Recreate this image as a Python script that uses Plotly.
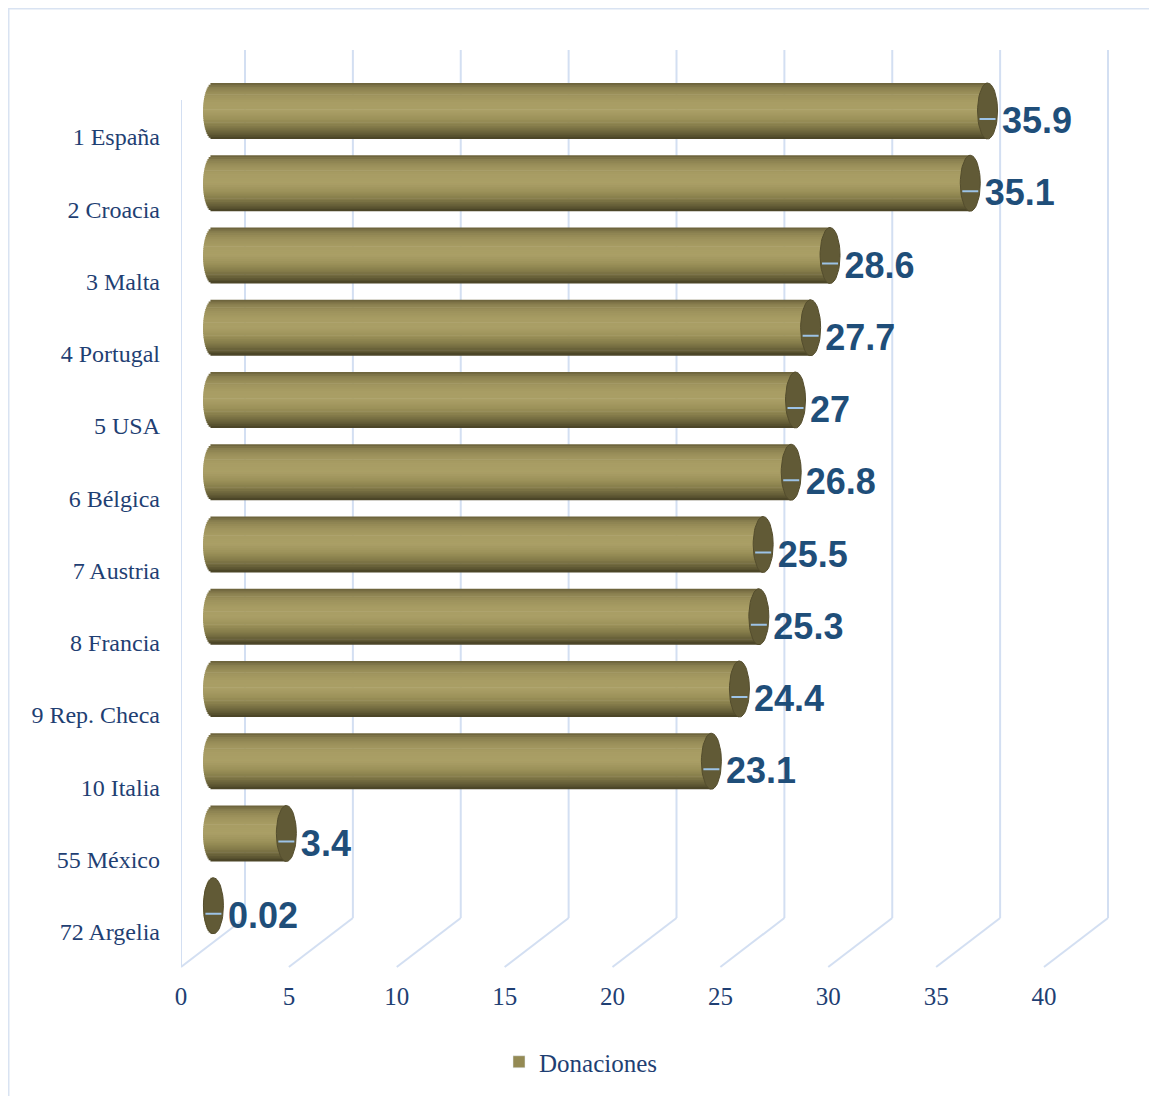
import math
import plotly.graph_objects as go

# ---------------- data ----------------
paises = ["1 España", "2 Croacia", "3 Malta", "4 Portugal", "5 USA", "6 Bélgica",
          "7 Austria", "8 Francia", "9 Rep. Checa", "10 Italia", "55 México", "72 Argelia"]
donaciones = [35.9, 35.1, 28.6, 27.7, 27, 26.8, 25.5, 25.3, 24.4, 23.1, 3.4, 0.02]
x_ticks = [0, 5, 10, 15, 20, 25, 30, 35, 40]
serie = "Donaciones"

# ---------------- layout geometry (pixels, page coords; page has 8px body margin) ----
OFF = 8
W, H = 1157, 1096
L, R, T, B = 181 - OFF, 1110 - OFF, 40 - OFF, 967 - OFF
PW, PH = R - L, B - T
S = 21.575            # px per unit along x
ROW = 72.25           # px per category
C0 = 111 - OFF        # centre of first bar
DEPTH_X, DEPTH_Y = 64, 49   # perspective offset (back wall)
BAR_SHIFT = 32        # bars sit at mid depth
LBL_SHIFT = 26        # category labels are on the front plane

xr = [0, PW / S]
x2r = [-BAR_SHIFT / S, PW / S - BAR_SHIFT / S]
yr = [(B - C0) / ROW, (T - C0) / ROW]
y2r = [yr[0] - LBL_SHIFT / ROW, yr[1] - LBL_SHIFT / ROW]

def px(xp):      # page x -> paper
    return (xp - OFF - L) / PW

def py(yp):      # page y -> paper
    return (B - (yp - OFF)) / PH

n = len(paises)
idx = list(range(n))

# ---------------- cylinder shading ----------------
stops = [(-1.0, "#665e38"), (-0.85, "#887e4e"), (-0.6, "#9d925c"), (-0.3, "#a89d64"),
         (0.0, "#aa9f66"), (0.3, "#9b9159"), (0.55, "#857c4a"), (0.8, "#655e37"),
         (1.0, "#474125")]

def hex2rgb(h):
    h = h.lstrip("#")
    return tuple(int(h[i:i + 2], 16) for i in (0, 2, 4))

def grad(t):
    for (t0, c0), (t1, c1) in zip(stops[:-1], stops[1:]):
        if t0 <= t <= t1:
            f = (t - t0) / (t1 - t0)
            a, b = hex2rgb(c0), hex2rgb(c1)
            return "rgb(%d,%d,%d)" % tuple(round(a[k] + (b[k] - a[k]) * f) for k in range(3))
    return stops[-1][1]

BAR_H = 56 / ROW          # bar thickness in category units
AX = 10 / S               # cap semi-axis (x units)
AY = BAR_H / 2            # cap semi-axis (y units)
NS = 30
hs = BAR_H / NS

fig = go.Figure()

for k in range(NS):
    tc = -1 + (k + 0.5) * 2 / NS
    base = -AX * math.sqrt(max(0.0, 1 - tc * tc))
    fig.add_trace(go.Bar(
        orientation="h",
        y=idx,
        x=[v - base for v in donaciones],
        base=[base] * n,
        width=hs * (1.35 if k < NS - 1 else 1.0),
        offset=-BAR_H / 2 + k * hs,
        marker=dict(color=grad(tc), line=dict(width=0)),
        xaxis="x2", yaxis="y",
        showlegend=False, hoverinfo="skip",
    ))

# end caps (ellipses built from each value)
cx, cy = [], []
for i, v in zip(idx, donaciones):
    for j in range(49):
        th = 2 * math.pi * j / 48
        cx.append(v + AX * math.cos(th))
        cy.append(i + AY * math.sin(th))
    cx.append(None)
    cy.append(None)
fig.add_trace(go.Scatter(
    x=cx, y=cy, mode="lines", fill="toself", fillcolor="#615a36",
    line=dict(color="#544d2d", width=1),
    xaxis="x2", yaxis="y", showlegend=False, hoverinfo="skip",
))

# leader lines
LY = 8 / ROW
lx, ly = [], []
for i, v in zip(idx, donaciones):
    lx += [v - 8 / S, v + 8 / S, None]
    ly += [i + LY, i + LY, None]
fig.add_trace(go.Scatter(
    x=lx, y=ly, mode="lines", line=dict(color="#9dc3e6", width=2),
    xaxis="x2", yaxis="y", showlegend=False, hoverinfo="skip",
))

# data labels
TY = 13 / ROW
fig.add_trace(go.Scatter(
    x=[v + 14.5 / S for v in donaciones],
    y=[i + TY for i in idx],
    mode="text",
    text=[f"{v:g}" for v in donaciones],
    textposition="middle right",
    textfont=dict(family="Liberation Sans, Arial", size=36, color="#1f4e79", weight="bold"),
    xaxis="x2", yaxis="y", showlegend=False, hoverinfo="skip",
))

# invisible trace to carry the front axes (category labels + value ticks)
fig.add_trace(go.Scatter(
    x=[0] * n, y=idx, mode="markers", marker=dict(opacity=0),
    xaxis="x", yaxis="y2", showlegend=False, hoverinfo="skip",
))

# legend entry
fig.add_trace(go.Bar(
    x=[None], y=[None], name=serie, marker=dict(color="#948a54"),
    xaxis="x2", yaxis="y", orientation="h",
))

# ---------------- perspective grid ----------------
GRID = "#d3dff2"
shapes = []
for v in x_ticks:
    xb = v + DEPTH_X / S
    shapes.append(dict(type="line", xref="x", yref="paper", x0=v, y0=0, x1=xb, y1=py(967 - DEPTH_Y),
                       line=dict(color=GRID, width=2), layer="below"))
    shapes.append(dict(type="line", xref="x", yref="paper", x0=xb, y0=py(967 - DEPTH_Y), x1=xb, y1=py(50),
                       line=dict(color=GRID, width=2), layer="below"))
shapes.append(dict(type="line", xref="x", yref="paper", x0=0, y0=0, x1=0, y1=py(100),
                   line=dict(color=GRID, width=2), layer="below"))
# chart border
shapes.append(dict(type="rect", xref="paper", yref="paper", x0=px(8.75), y0=py(1110), x1=px(1170), y1=py(8.75),
                   line=dict(color="#d9e3f2", width=1.5), layer="below"))

TICK_FONT = dict(family="Liberation Serif, Times New Roman, serif", size=25, color="#1f3f73")
CAT_FONT = dict(family="Liberation Serif, Times New Roman, serif", size=24, color="#1f3f73")

fig.update_layout(
    width=W, height=H,
    margin=dict(l=L, r=W - R, t=T, b=H - B),
    paper_bgcolor="white", plot_bgcolor="rgba(0,0,0,0)",
    barmode="overlay",
    shapes=shapes,
    xaxis=dict(domain=[0, 1], range=xr, tickvals=x_ticks, showgrid=False, zeroline=False,
               showline=False, ticks="", ticklabelstandoff=12, tickfont=TICK_FONT, anchor="y"),
    xaxis2=dict(range=x2r, overlaying="x", visible=False, anchor="y"),
    yaxis=dict(domain=[0, 1], range=yr, visible=False, anchor="x"),
    yaxis2=dict(range=y2r, overlaying="y", tickvals=idx, ticktext=paises, showgrid=False,
                zeroline=False, showline=False, ticks="", ticklabelstandoff=20,
                tickfont=CAT_FONT, anchor="x", side="left"),
    legend=dict(orientation="h", x=px(499), y=py(1062), xanchor="left", yanchor="middle",
                font=TICK_FONT, bgcolor="rgba(0,0,0,0)"),
)

fig.write_html("out.html")
